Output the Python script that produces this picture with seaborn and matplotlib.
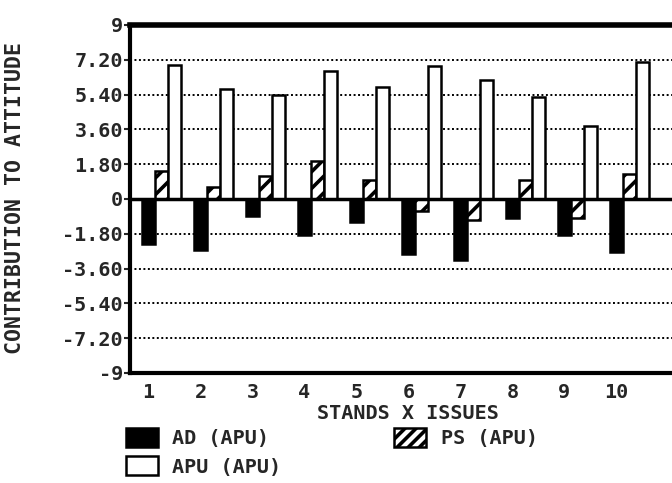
import matplotlib
matplotlib.use("Agg")
import matplotlib.pyplot as plt
from matplotlib.patches import Patch
import pandas as pd
import seaborn as sns

# values
stands = [1, 2, 3, 4, 5, 6, 7, 8, 9, 10]
ad_apu = [-2.31, -2.66, -0.90, -1.85, -1.21, -2.83, -3.14, -0.98, -1.85, -2.76]
ps_apu = [1.43, 0.60, 1.17, 1.95, 0.96, -0.64, -1.07, 0.96, -0.98, 1.31]
apu_apu = [6.95, 5.69, 5.36, 6.64, 5.77, 6.86, 6.14, 5.28, 3.79, 7.07]
series = ["AD (APU)", "PS (APU)", "APU (APU)"]
yticks = [9, 7.2, 5.4, 3.6, 1.8, 0, -1.8, -3.6, -5.4, -7.2, -9]
ytick_labels = ["9", "7.20", "5.40", "3.60", "1.80", "0",
                "-1.80", "-3.60", "-5.40", "-7.20", "-9"]

df = pd.DataFrame({
    "stand": stands * 3,
    "series": [series[0]] * 10 + [series[1]] * 10 + [series[2]] * 10,
    "value": ad_apu + ps_apu + apu_apu,
})

sns.set_style("white")
plt.rcParams["font.family"] = ["DejaVu Sans Mono"]
plt.rcParams["font.weight"] = "bold"
plt.rcParams["hatch.linewidth"] = 2.6
plt.rcParams["hatch.color"] = "black"

fs = 14.5
fig = plt.figure(figsize=(6.72, 4.83), dpi=100)
ax = fig.add_axes([130 / 672, 1 - 373 / 483, 1 - 130 / 672, 348 / 483])

sns.barplot(data=df, x="stand", y="value", hue="series", hue_order=series,
            palette=["black", "white", "white"], saturation=1, width=0.75,
            errorbar=None, edgecolor="black", linewidth=1.8, legend=False, ax=ax)

# hatch the PS bars
for p in ax.containers[1].patches:
    p.set_hatch("//")

# dotted grid + zero line
for yv in yticks[1:-1]:
    if yv == 0:
        ax.axhline(0, color="black", lw=2.5, zorder=1)
    else:
        ax.axhline(yv, color="black", lw=1.4, ls=(0, (1, 1.3)), zorder=0)

ax.set_ylim(-9, 9)
ax.set_xlim(-0.605, 9.82)
ax.set_yticks(yticks)
ax.set_yticklabels(ytick_labels, fontsize=fs, fontweight="bold")
ax.set_xticks([i - 0.25 for i in range(len(stands))])
ax.set_xticklabels([str(s) for s in stands], fontsize=fs, fontweight="bold")
ax.tick_params(axis="y", length=4, width=1.5, pad=1, direction="out", left=True)
ax.tick_params(axis="x", length=0, pad=7)

for side in ["left", "bottom"]:
    ax.spines[side].set_linewidth(3)
    ax.spines[side].set_color("black")
ax.spines["top"].set_linewidth(4)
ax.spines["top"].set_color("black")
ax.spines["right"].set_visible(False)

ax.set_xlabel("STANDS X ISSUES", fontsize=fs, fontweight="bold")
ax.xaxis.set_label_coords(0.513, -0.088)
ax.xaxis.label.set_va("top")
ax.set_ylabel("CONTRIBUTION TO ATTITUDE", fontsize=15.5, fontweight="bold")
ax.yaxis.set_label_coords(-0.212, 0.503)
ax.yaxis.label.set_va("center")

handles = [
    Patch(facecolor="black", edgecolor="black", lw=1.8, label=series[0]),
    Patch(facecolor="white", edgecolor="black", lw=1.8, label=series[2]),
    Patch(facecolor="white", edgecolor="black", lw=1.8, hatch="///", label=series[1]),
]
fig.legend(handles=handles, ncol=2, loc="upper left",
           bbox_to_anchor=(118 / 672, 1 - 420 / 483), frameon=False,
           prop={"family": "DejaVu Sans Mono", "weight": "bold", "size": fs},
           handlelength=1.6, handleheight=1.05, handletextpad=0.7,
           labelspacing=0.4, columnspacing=5.6, borderaxespad=0)

fig.savefig("out.png", dpi=100)
